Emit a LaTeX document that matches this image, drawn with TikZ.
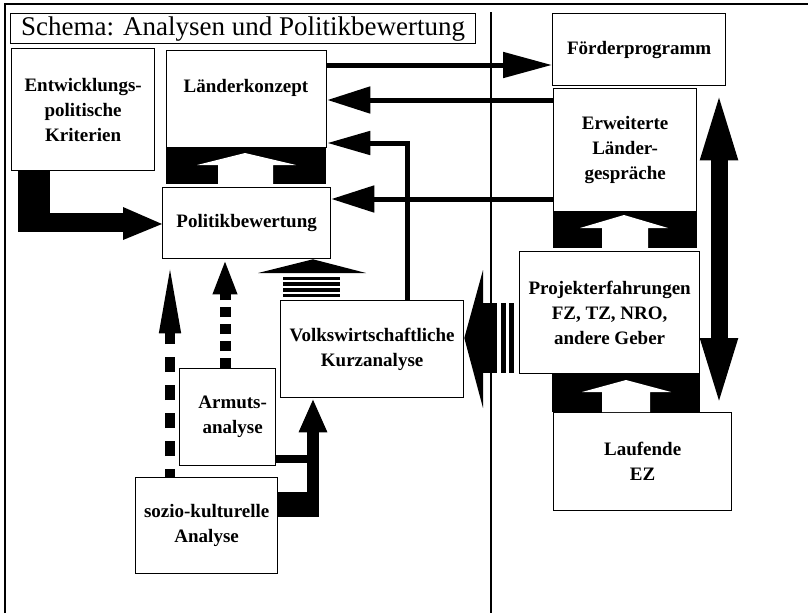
\documentclass[tikz,border=0pt]{standalone}
\usepackage{fontspec}
\setmainfont{Liberation Serif}
\usetikzlibrary{arrows.meta}
\tikzset{
  box/.style={draw, line width=1.3pt, fill=white, inner sep=0pt, anchor=north west,
    font=\fontsize{19}{25}\selectfont\bfseries, align=center},
  lbl/.style={inner sep=0pt, font=\fontsize{19}{25}\selectfont\bfseries, align=center},
  conn/.style={line width=5pt, -{Triangle[length=43pt,width=26pt]}},
  frameline/.style={line width=1.3pt},
}
\begin{document}
\begin{tikzpicture}[x=1pt,y=-1pt]
\useasboundingbox (0,0) rectangle (808,613);

% page frame and column divider
\draw[frameline] (5,613) -- (5,4) -- (808,4);
\draw[frameline] (491,12) -- (491,613);

% title
\node[box, font=\fontsize{27}{30}\selectfont,
  minimum width=465pt, minimum height=30pt]
  (title) at (10,13) {Schema: Analysen und Politikbewertung};

% left column boxes
\node[box, minimum width=143pt, minimum height=122pt] (krit) at (11,48)
  {Entwicklungs-\\politische\\Kriterien};
\node[box, minimum width=160pt, minimum height=97pt] (lk) at (166,50) {};
\node[lbl] (lkt) at (246,88) {Länderkonzept};
\node[box, minimum width=168pt, minimum height=71pt] (pb) at (162,187) {Politikbewertung};
\node[box, minimum width=183pt, minimum height=97pt] (vk) at (280,300)
  {Volkswirtschaftliche\\Kurzanalyse};
\node[box, minimum width=96pt, minimum height=97pt] (ar) at (179,368)
  {\hspace*{10pt}Armuts-\\\hspace*{10pt}analyse};
\node[box, minimum width=142pt, minimum height=96pt] (sk) at (135,477)
  {sozio-kulturelle\\Analyse};

% right column boxes
\node[box, minimum width=173pt, minimum height=72pt] (fp) at (552,13) {Förderprogramm};
\node[box, minimum width=143pt, minimum height=123pt] (eg) at (553,88)
  {Erweiterte\\Länder-\\gespräche};
\node[box, minimum width=180pt, minimum height=122pt] (pe) at (519,251)
  {Projekterfahrungen\\FZ, TZ, NRO,\\andere Geber};
\node[box, minimum width=178pt, minimum height=98pt] (le) at (553,412)
  {Laufende\\EZ};

% black bands with white upward arrows
\fill (166,147) rectangle (326,184);
\fill[white] (218,184) -- (218,165) -- (197,165) -- (245,153) -- (296,165)
  -- (273,165) -- (273,184) -- cycle;
\fill (553,211) rectangle (697,248);
\fill[white] (602,248) -- (602,228) -- (580,228) -- (624,215) -- (668,228)
  -- (648,228) -- (648,248) -- cycle;
\fill (552,373) rectangle (700,412);
\fill[white] (602,412) -- (602,392) -- (582,392) -- (626,380) -- (671,392)
  -- (650,392) -- (650,412) -- cycle;

% thin arrows
\draw[conn, -{Triangle[length=49pt,width=25pt]}] (lk.east |- 0,65) -- (fp.west |- 0,65);
\draw[conn] (eg.west |- 0,100) -- (lk.east |- 0,100);
\draw[conn] (eg.west |- 0,199) -- (pb.east |- 0,199);
\draw[conn, -{Triangle[length=43pt,width=23pt]}] (vk.north -| 407,0) -- (407,143) -- (lk.east |- 0,143);

% double arrow between Förderprogramm and Laufende EZ
\draw[line width=17pt, {Triangle[length=74pt,width=32pt]}-{Triangle[length=74pt,width=32pt]}]
  (fp.south -| 719,0) -- (le.north -| 719,0);

% Kriterien -> Politikbewertung
\fill (krit.south -| 18,0) rectangle (50,232);
\fill (18,213) rectangle (124,232);
\fill (123,207) -- (pb.west |- 0,224) -- (123,240) -- cycle;

% dashed arrows into Politikbewertung
\draw[line width=10pt, dash pattern=on 15pt off 13pt, dash phase=7pt,
  -{Triangle[length=74pt,width=19pt]}] (sk.north -| 170,0) -- (pb.south -| 170,0);
\draw[line width=11pt, dash pattern=on 10pt off 7pt,
  -{Triangle[length=35pt,width=22pt]}] (ar.north -| 225,0) -- (pb.south -| 225,0);

% Armuts-/sozio-kulturelle Analyse -> Volkswirtschaftliche Kurzanalyse
\draw[line width=8pt] (ar.east |- 0,459) -- (313,459);
\fill (sk.east |- 0,492) rectangle (319,517);
\draw[line width=12pt, -{Triangle[length=34pt,width=26pt]}] (313,517) -- (vk.south -| 313,0);

% striped arrow Kurzanalyse -> Politikbewertung
\fill (258,273) -- (pb.south -| 313,0) -- (366,273) -- cycle;
\foreach \y in {276.5,282.3,288.1,293.5}
  \fill (283,\y) rectangle (340,\y+3.5);

% striped arrow Projekterfahrungen -> Kurzanalyse
\fill (483,270) -- (vk.east |- 0,338) -- (483,408) -- cycle;
\fill (482,303) rectangle (497,373);
\fill (501,303) rectangle (506,373);
\fill (509,303) rectangle (514,373);
\end{tikzpicture}
\end{document}
